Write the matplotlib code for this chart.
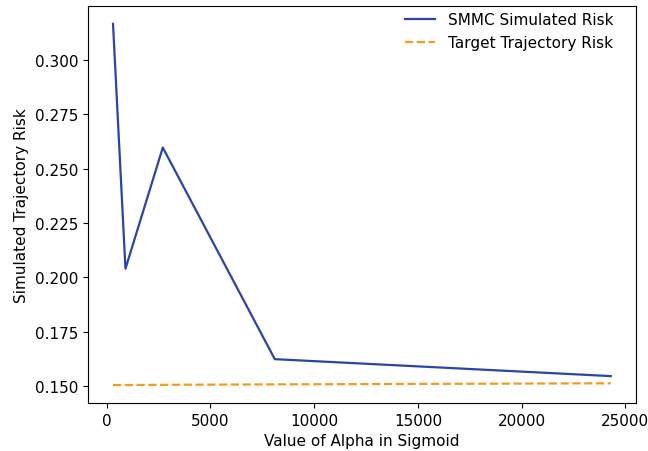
import matplotlib
matplotlib.use("Agg")
import matplotlib.pyplot as plt

alpha_values = [300, 900, 2700, 8100, 24300]
smmc_risk = [0.3166, 0.2040, 0.2597, 0.1624, 0.1546]
target_risk = [0.1505, 0.1505, 0.1506, 0.1508, 0.1513]

fig = plt.figure(figsize=(6.48, 4.52), dpi=100)
ax = fig.add_axes([0.136, 0.106, 0.845, 0.879])

ax.plot(alpha_values, smmc_risk, color="#2b44a6", linewidth=1.6, label="SMMC Simulated Risk")
ax.plot(alpha_values, target_risk, color="#f59a1b", linewidth=1.6, linestyle="--",
        label="Target Trajectory Risk")

ax.set_xticks([0, 5000, 10000, 15000, 20000, 25000])
ax.set_yticks([0.150, 0.175, 0.200, 0.225, 0.250, 0.275, 0.300])
ax.yaxis.set_major_formatter(matplotlib.ticker.FormatStrFormatter("%.3f"))
ax.tick_params(labelsize=11)

ax.set_xlabel("Value of Alpha in Sigmoid", fontsize=11)
ax.set_ylabel("Simulated Trajectory Risk", fontsize=11)

ax.legend(loc="upper right", bbox_to_anchor=(0.984, 1.018), frameon=False, fontsize=11)

fig.savefig("out.png", dpi=100)
